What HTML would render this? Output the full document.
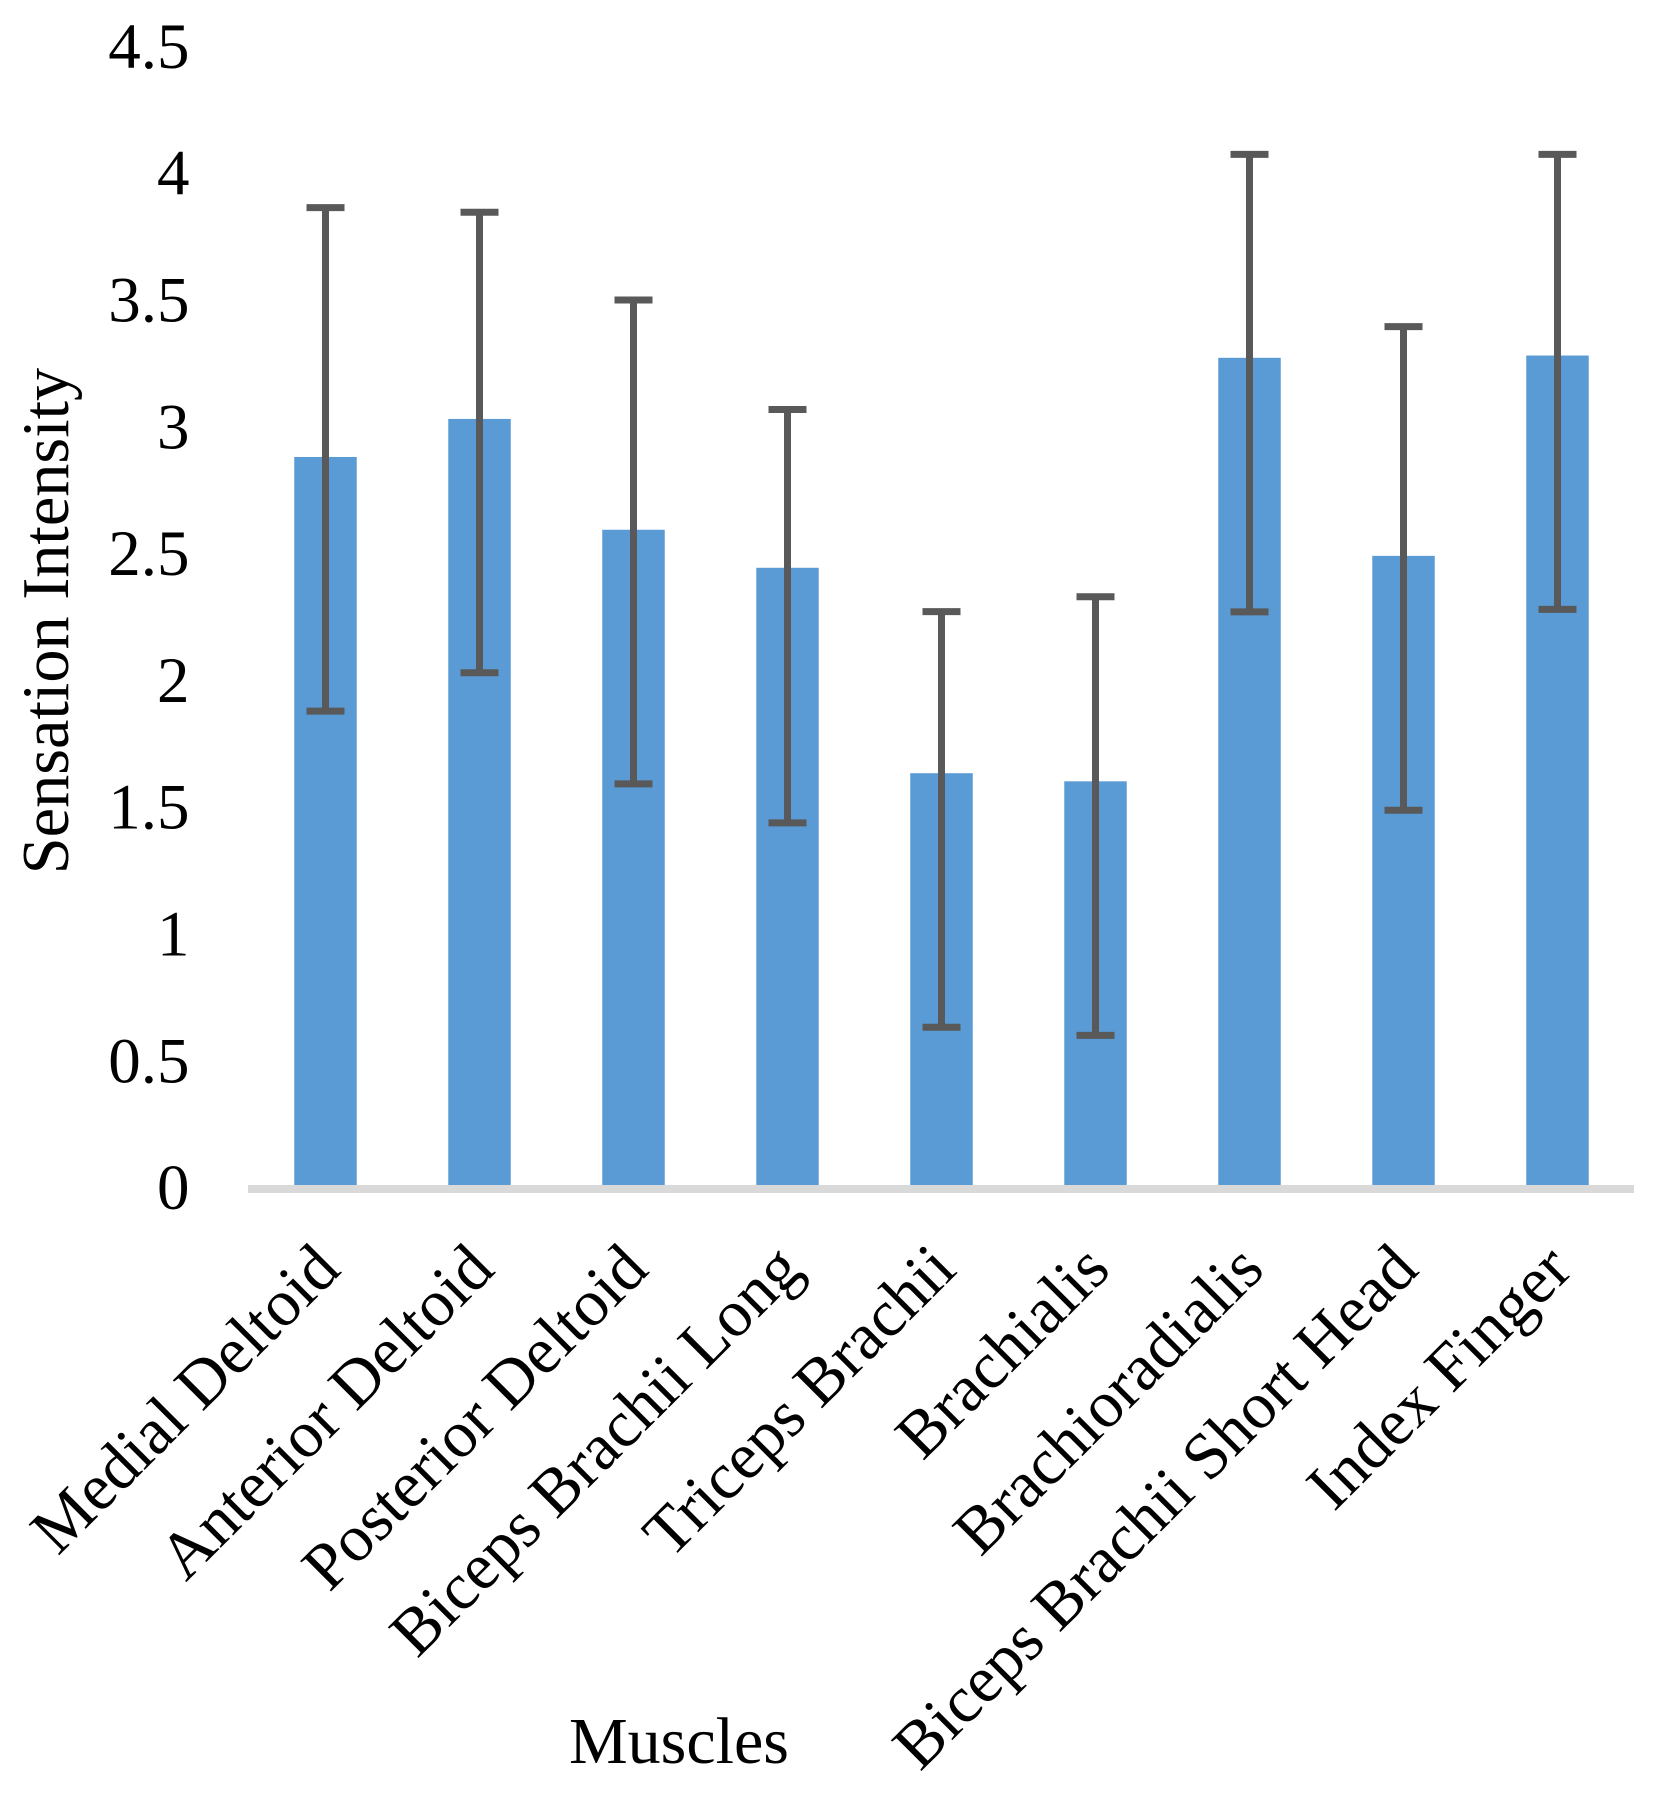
<!DOCTYPE html>
<html lang="en">
<head>
<meta charset="utf-8">
<title>Sensation Intensity by Muscle</title>
<style>
html,body{margin:0;padding:0;background:#fff;}
svg{display:block;}
text{font-family:"Liberation Serif",serif;fill:#000;}
</style>
</head>
<body>
<svg id="chart" xmlns="http://www.w3.org/2000/svg" width="1662" height="1804" viewBox="0 0 1662 1804"></svg>
<script>
const categories = ["Medial Deltoid","Anterior Deltoid","Posterior Deltoid","Biceps Brachii Long","Triceps Brachii","Brachialis","Brachioradialis","Biceps Brachii Short Head","Index Finger"];
const means = [2.885,3.035,2.598,2.448,1.638,1.606,3.276,2.495,3.285];
const errorUpper = [3.868,3.850,3.504,3.072,2.275,2.334,4.078,3.399,4.078];
const errorLower = [1.883,2.034,1.596,1.442,0.636,0.604,2.274,1.492,2.284];
const tickLabels = ["0","0.5","1","1.5","2","2.5","3","3.5","4","4.5"];
const tickValues = [0,0.5,1,1.5,2,2.5,3,3.5,4,4.5];

const NS = "http://www.w3.org/2000/svg";
const svg = document.getElementById("chart");
const plotLeft = 248, plotRight = 1634, firstCenter = 325.5, pitch = 154;
const barWidth = 62.5, capWidth = 38, errStroke = 7;
const zeroY = 1188.6, unitPx = 253.6;
function yScale(v){ return zeroY - v * unitPx; }
function xScale(i){ return firstCenter + i * pitch; }
function make(tag, attrs){
  const el = document.createElementNS(NS, tag);
  for (const k in attrs) el.setAttribute(k, attrs[k]);
  return el;
}

tickValues.forEach(function(v, i){
  const t = make("text", {x:189.5, y:yScale(v)+20.5, "text-anchor":"end", "font-size":65});
  
  
  t.textContent = tickLabels[i];
  svg.appendChild(t);
});

means.forEach(function(v, i){
  const r = make("rect", {x:xScale(i)-barWidth/2, y:yScale(v), width:barWidth, height:zeroY-yScale(v), fill:"#5B9BD5"});
  
  
  svg.appendChild(r);
});

const axis = make("rect", {x:plotLeft, y:1185, width:plotRight-plotLeft, height:8, fill:"#D9D9D9"});


svg.appendChild(axis);

categories.forEach(function(c, i){
  const cx = xScale(i), top = yScale(errorUpper[i]), bot = yScale(errorLower[i]);
  const g = make("g", {stroke:"#595959", "stroke-width":errStroke, fill:"none"});
  
  
  g.appendChild(make("line", {x1:cx, x2:cx, y1:top, y2:bot}));
  g.appendChild(make("line", {x1:cx-capWidth/2, x2:cx+capWidth/2, y1:top, y2:top}));
  g.appendChild(make("line", {x1:cx-capWidth/2, x2:cx+capWidth/2, y1:bot, y2:bot}));
  svg.appendChild(g);

  const lx = cx + 17, ly = 1272;
  const t = make("text", {x:lx, y:ly, "text-anchor":"end", "font-size":66.2, transform:"rotate(-45 "+lx+" "+ly+")"});
  
  
  t.textContent = c;
  svg.appendChild(t);
});

const yTitle = make("text", {x:68, y:621, "text-anchor":"middle", "font-size":66.3, transform:"rotate(-90 68 621)"});


yTitle.textContent = "Sensation Intensity";
svg.appendChild(yTitle);

const xTitle = make("text", {x:679, y:1763, "text-anchor":"middle", "font-size":66});


xTitle.textContent = "Muscles";
svg.appendChild(xTitle);
</script>
</body>
</html>
